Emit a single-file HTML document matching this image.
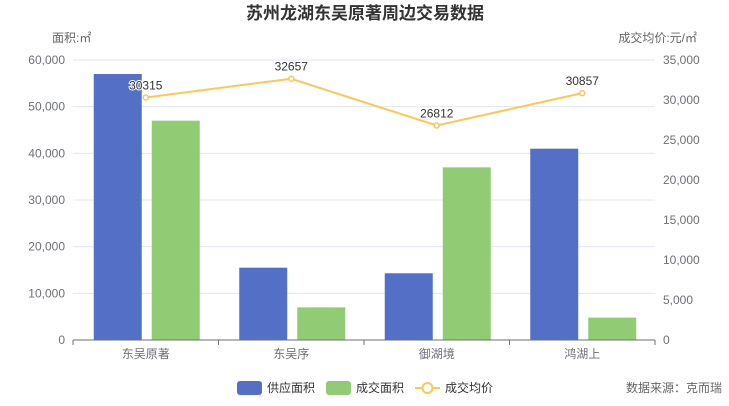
<!DOCTYPE html>
<html><head><meta charset="utf-8"><style>
body{margin:0;background:#fff;}
svg text{font-family:"Liberation Sans","Noto Sans CJK SC",sans-serif;}
</style></head><body>
<svg id="chart" width="729" height="401" xmlns="http://www.w3.org/2000/svg">
<text x="365" y="19" text-anchor="middle" font-size="17" font-weight="bold" fill="#333">苏州龙湖东吴原著周边交易数据</text>
<text x="52" y="42" font-size="12" fill="#666">面积:㎡</text>
<text x="697" y="42" text-anchor="end" font-size="12" fill="#666">成交均价:元/㎡</text>
<g id="grid"></g><g id="bars"></g><g id="line"></g><g id="axes"></g>
<g>
<rect x="237" y="381" width="25" height="14" rx="3" fill="#5470c6"/>
<text x="267" y="392" font-size="12" fill="#333">供应面积</text>
<rect x="326" y="381" width="25" height="14" rx="3" fill="#91cc75"/>
<text x="356" y="392" font-size="12" fill="#333">成交面积</text>
<line x1="415" y1="388" x2="440" y2="388" stroke="#fac858" stroke-width="2"/>
<circle cx="427.5" cy="388" r="5" fill="#fff" stroke="#fac858" stroke-width="2"/>
<text x="445" y="392" font-size="12" fill="#333">成交均价</text>
</g>
<text x="722" y="392" text-anchor="end" font-size="12" fill="#666">数据来源：克而瑞</text>
</svg>
<script>
const categories=["东吴原著","东吴序","御湖境","鸿湖上"];
const supply=[57000,15500,14300,41000];
const deal=[47000,7000,37000,4800];
const price=[30315,32657,26812,30857];
const leftTicks=[0,10000,20000,30000,40000,50000,60000];
const rightTicks=[0,5000,10000,15000,20000,25000,30000,35000];
const NS="http://www.w3.org/2000/svg";
const L=73,R=655,T=60,B=340;
const yL=v=>B-(v/60000)*(B-T);
const yR=v=>B-(v/35000)*(B-T);
const bw=(R-L)/categories.length;
const xc=i=>L+bw*(i+0.5);
function mk(tag,attrs,parent,txt){const e=document.createElementNS(NS,tag);for(const k in attrs)e.setAttribute(k,attrs[k]);if(txt!==undefined)e.textContent=txt;document.getElementById(parent).appendChild(e);return e;}
const fmt=v=>v.toLocaleString('en-US');
leftTicks.forEach(v=>{
 if(v>0){const g=mk('line',{x1:L,x2:R,y1:yL(v),y2:yL(v),stroke:'#e0e6f1'},'grid');
 
 }
 const t=mk('text',{x:L-8,y:yL(v)+4,'text-anchor':'end','font-size':12,fill:'#6e7079'},'axes',fmt(v));
 
 
});
rightTicks.forEach(v=>{
 const t=mk('text',{x:R+8,y:yR(v)+4,'font-size':12,fill:'#6e7079'},'axes',fmt(v));
 
 
});
const ax=mk('line',{x1:L,x2:R,y1:B,y2:B,stroke:'#6e7079'},'axes');


for(let i=0;i<=categories.length;i++){
 const tk=mk('line',{x1:L+bw*i,x2:L+bw*i,y1:B,y2:B+5,stroke:'#6e7079'},'axes');
 
 
}
categories.forEach((c,i)=>{
 const t=mk('text',{x:xc(i),y:B+18,'text-anchor':'middle','font-size':12,fill:'#6e7079'},'axes',c);
 
 
 const b1=mk('rect',{x:xc(i)-52,y:yL(supply[i]),width:48,height:B-yL(supply[i]),fill:'#5470c6'},'bars');
 
 
 const b2=mk('rect',{x:xc(i)+6,y:yL(deal[i]),width:48,height:B-yL(deal[i]),fill:'#91cc75'},'bars');
 
 
});
const pts=price.map((v,i)=>xc(i)+','+yR(v)).join(' ');
const pl=mk('polyline',{points:pts,fill:'none',stroke:'#fac858','stroke-width':2},'line');


price.forEach((v,i)=>{
 const c=mk('circle',{cx:xc(i),cy:yR(v),r:2.5,fill:'#fff',stroke:'#fac858','stroke-width':1.5},'line');
 
 
 const t=mk('text',{x:xc(i),y:yR(v)-8,'text-anchor':'middle','font-size':12,fill:'#333',stroke:'#fff','stroke-width':2,'paint-order':'stroke'},'line',String(v));
 
 
});
</script>
</body></html>
